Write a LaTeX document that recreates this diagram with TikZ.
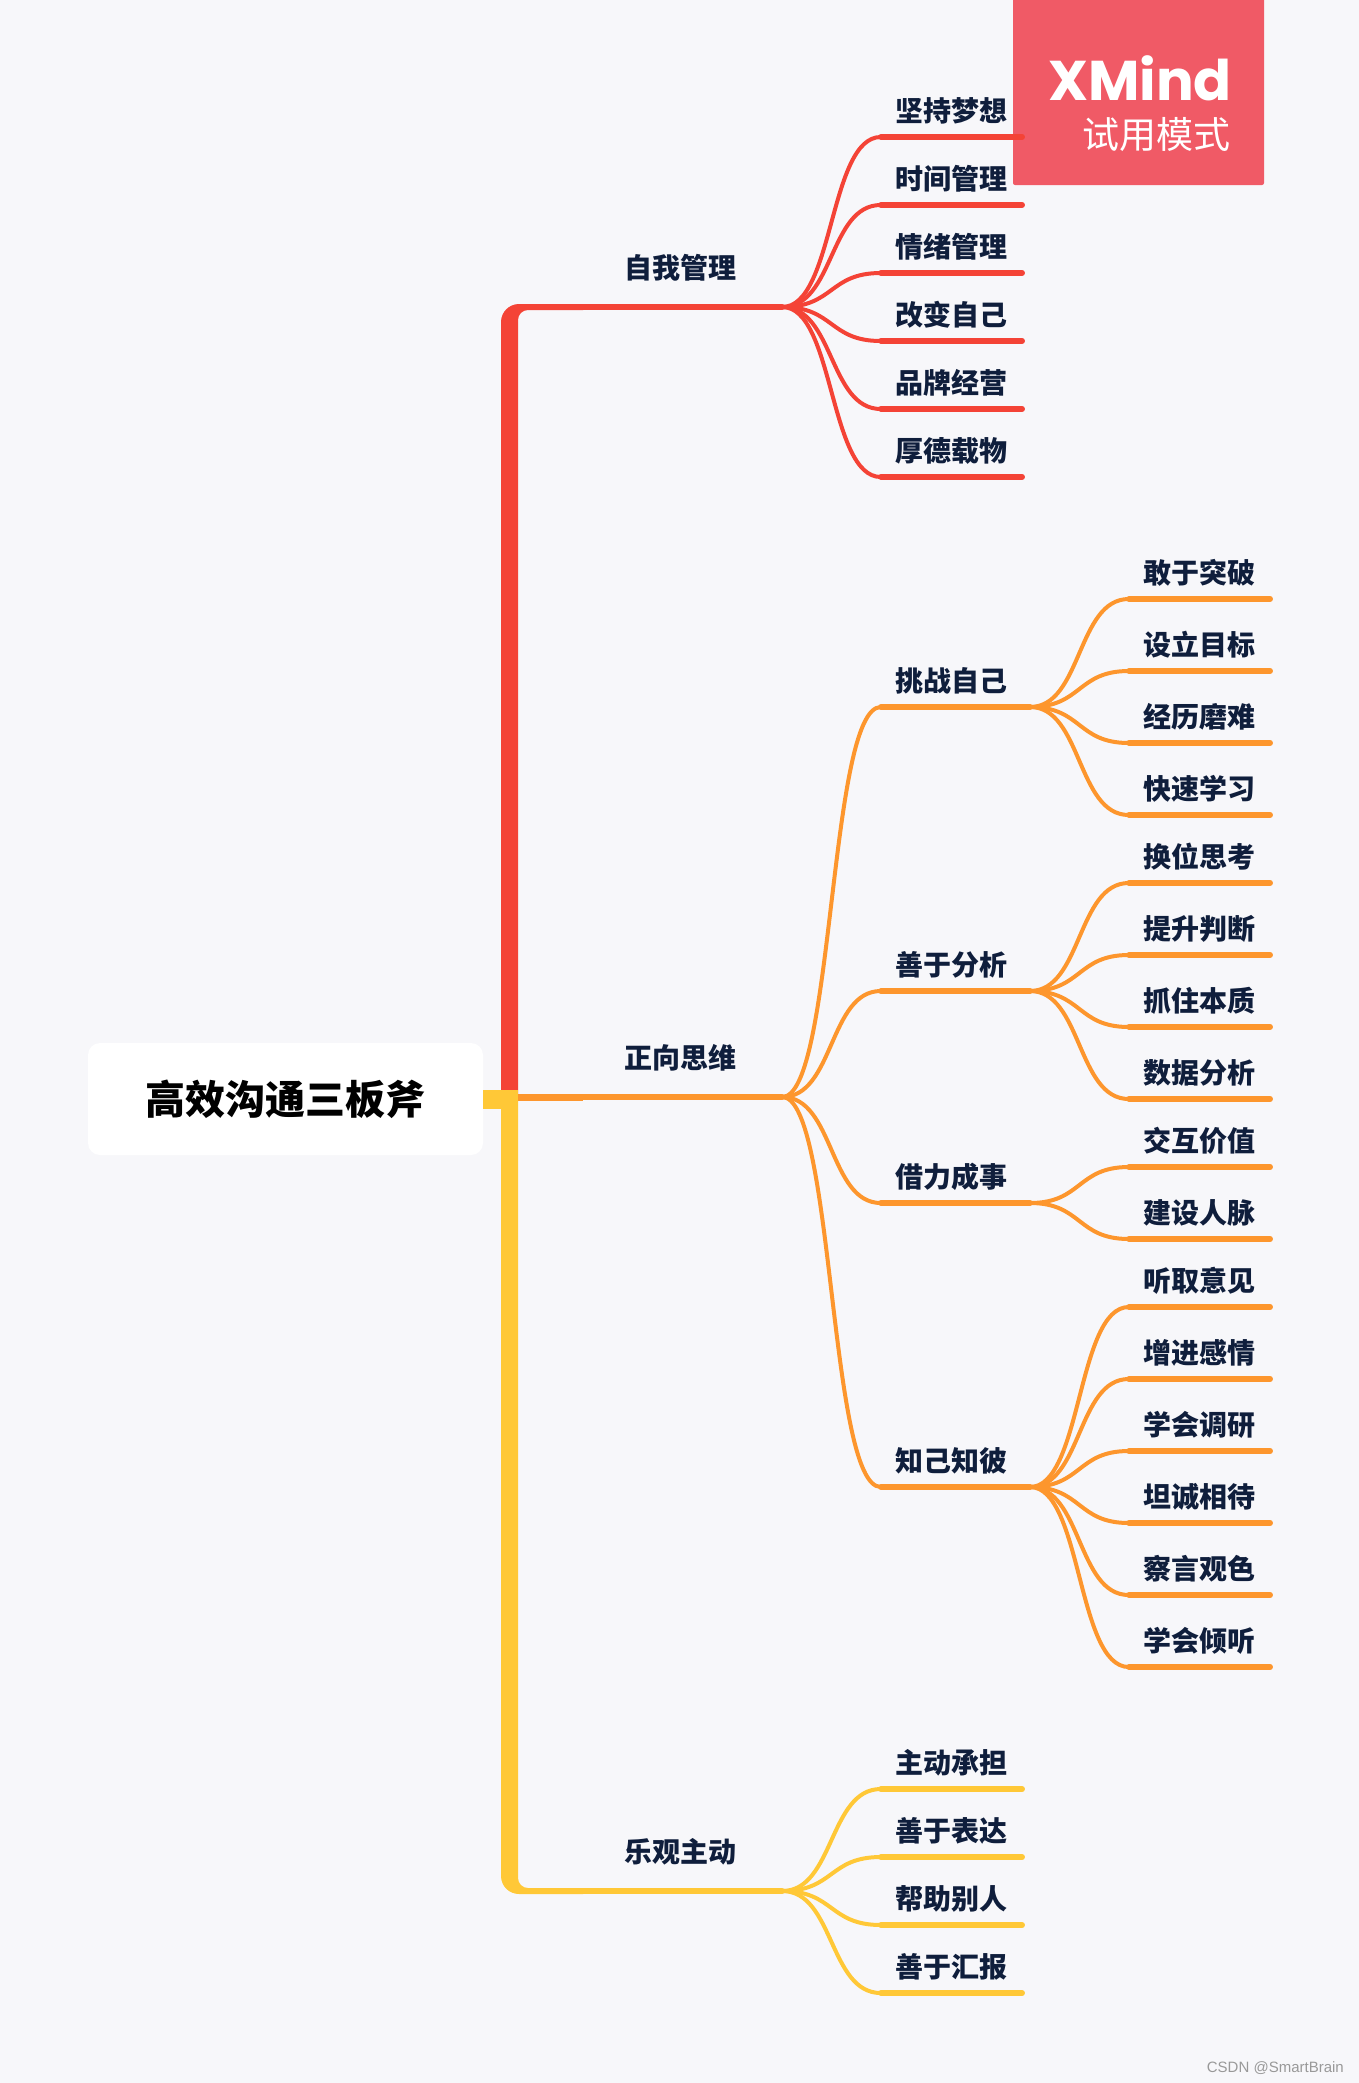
\documentclass[tikz,border=0pt]{standalone}
\usepackage{fontspec}
\setmainfont{Noto Sans CJK SC}
\newfontfamily\logofont{Poppins}
\newfontfamily\markfont{Liberation Sans}

\begin{document}
\begin{tikzpicture}[x=1pt, y=-1pt,
        rootbox/.style={fill=white, rounded corners=12pt, minimum width=395pt, minimum height=112pt, inner sep=0pt, font=\fontsize{40}{48}\selectfont\bfseries, text=black},
        maintopic/.style={anchor=south, minimum width=204pt, minimum height=78pt, inner sep=0pt, font=\fontsize{28}{34}\selectfont\bfseries, text=labelblue},
        leaf/.style={anchor=south, minimum width=141pt, minimum height=52pt, inner sep=0pt, font=\fontsize{28}{34}\selectfont\bfseries, text=labelblue},
        curveline/.style={line width=4pt},
        underline/.style={line width=5.5pt, line cap=round},
        fan/.style={out=0, in=180, distance=52pt}]
        % Colores
        \definecolor{paper}{RGB}{247, 247, 250}
        \definecolor{labelblue}{RGB}{15, 30, 60}
        \definecolor{linered}{RGB}{244, 67, 54}
        \definecolor{lineorange}{RGB}{253, 150, 45}
        \definecolor{lineyellow}{RGB}{255, 200, 55}
        \definecolor{trialred}{RGB}{240, 90, 102}

        \fill[paper] (0,0) rectangle (1359,2083);
        \useasboundingbox (0,0) rectangle (1359,2083);

        % Marca de prueba
        \fill[trialred, rounded corners=2pt] (1013,-5) rectangle (1264,185);
        \node[anchor=east, inner sep=0pt, text=white, font=\logofont\fontsize{56}{62}\selectfont\bfseries] (trialname) at (1232,78) {XMind};
        \node[anchor=east, inner sep=0pt, text=white, font=\fontsize{37}{44}\selectfont] (trialmode) at (1231,135) {试用模式};
        \node[anchor=east, inner sep=0pt, text=black!40, font=\markfont\fontsize{15}{18}\selectfont] (csdnmark) at (1344,2068) {CSDN @SmartBrain};

        % Nodos
        \node[rootbox] (root) at (285.5,1099) {高效沟通三板斧};

        \node[maintopic] (self) at (680,307) {自我管理};
        \node[maintopic] (positive) at (680,1097) {正向思维};
        \node[maintopic] (active) at (680,1891) {乐观主动};

        \node[leaf] (dream) at (951.5,137) {坚持梦想};
        \node[leaf] (time) at (951.5,205) {时间管理};
        \node[leaf] (mood) at (951.5,273) {情绪管理};
        \node[leaf] (change) at (951.5,341) {改变自己};
        \node[leaf] (brand) at (951.5,409) {品牌经营};
        \node[leaf] (virtue) at (951.5,477) {厚德载物};

        \node[leaf] (challenge) at (951.5,707) {挑战自己};
        \node[leaf] (analyse) at (951.5,991) {善于分析};
        \node[leaf] (leverage) at (951.5,1203) {借力成事};
        \node[leaf] (knowing) at (951.5,1487) {知己知彼};

        \node[leaf] (dare) at (1199.5,599) {敢于突破};
        \node[leaf] (goal) at (1199.5,671) {设立目标};
        \node[leaf] (hardship) at (1199.5,743) {经历磨难};
        \node[leaf] (learn) at (1199.5,815) {快速学习};

        \node[leaf] (swap) at (1199.5,883) {换位思考};
        \node[leaf] (judge) at (1199.5,955) {提升判断};
        \node[leaf] (essence) at (1199.5,1027) {抓住本质};
        \node[leaf] (data) at (1199.5,1099) {数据分析};

        \node[leaf] (value) at (1199.5,1167) {交互价值};
        \node[leaf] (network) at (1199.5,1239) {建设人脉};

        \node[leaf] (opinion) at (1199.5,1307) {听取意见};
        \node[leaf] (feeling) at (1199.5,1379) {增进感情};
        \node[leaf] (survey) at (1199.5,1451) {学会调研};
        \node[leaf] (honest) at (1199.5,1523) {坦诚相待};
        \node[leaf] (observe) at (1199.5,1595) {察言观色};
        \node[leaf] (listen) at (1199.5,1667) {学会倾听};

        \node[leaf] (duty) at (951.5,1789) {主动承担};
        \node[leaf] (express) at (951.5,1857) {善于表达};
        \node[leaf] (help) at (951.5,1925) {帮助别人};
        \node[leaf] (report) at (951.5,1993) {善于汇报};

        \coordinate (fanchallenge) at (1030,707);
        \coordinate (fananalyse) at (1030,991);
        \coordinate (fanleverage) at (1030,1203);
        \coordinate (fanknowing) at (1030,1487);
        \coordinate (spinemid) at (518,1097);
        \coordinate (stubend) at (583,1097);
        \coordinate (spinejoin) at (518,1099);

        % Troncos
        \fill[linered] (501,1095) [rounded corners=18pt] -- (501,304) [rounded corners=0pt] -- (583,304) -- (583,310) [rounded corners=10pt] -- (518,310) [rounded corners=0pt] -- (518,1095) -- cycle;
        \fill[lineyellow] (501,1099) [rounded corners=18pt] -- (501,1894) [rounded corners=0pt] -- (583,1894) -- (583,1888) [rounded corners=10pt] -- (518,1888) [rounded corners=0pt] -- (518,1099) -- cycle;
        \draw[lineorange, line width=7pt] (spinemid) -- (stubend);
        \draw[lineyellow, line width=19pt] (root.east) -- (spinejoin);

        % Conexiones
        \draw[linered, underline] (self.south west) -- (self.south east);
        \draw[lineorange, underline] (stubend) -- (positive.south east);
        \draw[lineyellow, underline] (active.south west) -- (active.south east);

        \draw[linered, curveline] (self.south east) to[fan] (dream.south west);
        \draw[linered, curveline] (self.south east) to[fan] (time.south west);
        \draw[linered, curveline] (self.south east) to[fan] (mood.south west);
        \draw[linered, curveline] (self.south east) to[fan] (change.south west);
        \draw[linered, curveline] (self.south east) to[fan] (brand.south west);
        \draw[linered, curveline] (self.south east) to[fan] (virtue.south west);
        \draw[linered, underline] (dream.south west) -- (dream.south east);
        \draw[linered, underline] (time.south west) -- (time.south east);
        \draw[linered, underline] (mood.south west) -- (mood.south east);
        \draw[linered, underline] (change.south west) -- (change.south east);
        \draw[linered, underline] (brand.south west) -- (brand.south east);
        \draw[linered, underline] (virtue.south west) -- (virtue.south east);

        \draw[lineorange, curveline] (positive.south east) to[fan] (challenge.south west);
        \draw[lineorange, curveline] (positive.south east) to[fan] (analyse.south west);
        \draw[lineorange, curveline] (positive.south east) to[fan] (leverage.south west);
        \draw[lineorange, curveline] (positive.south east) to[fan] (knowing.south west);
        \draw[lineorange, underline] (challenge.south west) -- (fanchallenge);
        \draw[lineorange, underline] (analyse.south west) -- (fananalyse);
        \draw[lineorange, underline] (leverage.south west) -- (fanleverage);
        \draw[lineorange, underline] (knowing.south west) -- (fanknowing);

        \draw[lineorange, curveline] (fanchallenge) to[fan] (dare.south west);
        \draw[lineorange, curveline] (fanchallenge) to[fan] (goal.south west);
        \draw[lineorange, curveline] (fanchallenge) to[fan] (hardship.south west);
        \draw[lineorange, curveline] (fanchallenge) to[fan] (learn.south west);
        \draw[lineorange, underline] (dare.south west) -- (dare.south east);
        \draw[lineorange, underline] (goal.south west) -- (goal.south east);
        \draw[lineorange, underline] (hardship.south west) -- (hardship.south east);
        \draw[lineorange, underline] (learn.south west) -- (learn.south east);

        \draw[lineorange, curveline] (fananalyse) to[fan] (swap.south west);
        \draw[lineorange, curveline] (fananalyse) to[fan] (judge.south west);
        \draw[lineorange, curveline] (fananalyse) to[fan] (essence.south west);
        \draw[lineorange, curveline] (fananalyse) to[fan] (data.south west);
        \draw[lineorange, underline] (swap.south west) -- (swap.south east);
        \draw[lineorange, underline] (judge.south west) -- (judge.south east);
        \draw[lineorange, underline] (essence.south west) -- (essence.south east);
        \draw[lineorange, underline] (data.south west) -- (data.south east);

        \draw[lineorange, curveline] (fanleverage) to[fan] (value.south west);
        \draw[lineorange, curveline] (fanleverage) to[fan] (network.south west);
        \draw[lineorange, underline] (value.south west) -- (value.south east);
        \draw[lineorange, underline] (network.south west) -- (network.south east);

        \draw[lineorange, curveline] (fanknowing) to[fan] (opinion.south west);
        \draw[lineorange, curveline] (fanknowing) to[fan] (feeling.south west);
        \draw[lineorange, curveline] (fanknowing) to[fan] (survey.south west);
        \draw[lineorange, curveline] (fanknowing) to[fan] (honest.south west);
        \draw[lineorange, curveline] (fanknowing) to[fan] (observe.south west);
        \draw[lineorange, curveline] (fanknowing) to[fan] (listen.south west);
        \draw[lineorange, underline] (opinion.south west) -- (opinion.south east);
        \draw[lineorange, underline] (feeling.south west) -- (feeling.south east);
        \draw[lineorange, underline] (survey.south west) -- (survey.south east);
        \draw[lineorange, underline] (honest.south west) -- (honest.south east);
        \draw[lineorange, underline] (observe.south west) -- (observe.south east);
        \draw[lineorange, underline] (listen.south west) -- (listen.south east);

        \draw[lineyellow, curveline] (active.south east) to[fan] (duty.south west);
        \draw[lineyellow, curveline] (active.south east) to[fan] (express.south west);
        \draw[lineyellow, curveline] (active.south east) to[fan] (help.south west);
        \draw[lineyellow, curveline] (active.south east) to[fan] (report.south west);
        \draw[lineyellow, underline] (duty.south west) -- (duty.south east);
        \draw[lineyellow, underline] (express.south west) -- (express.south east);
        \draw[lineyellow, underline] (help.south west) -- (help.south east);
        \draw[lineyellow, underline] (report.south west) -- (report.south east);
    \end{tikzpicture}
\end{document}
